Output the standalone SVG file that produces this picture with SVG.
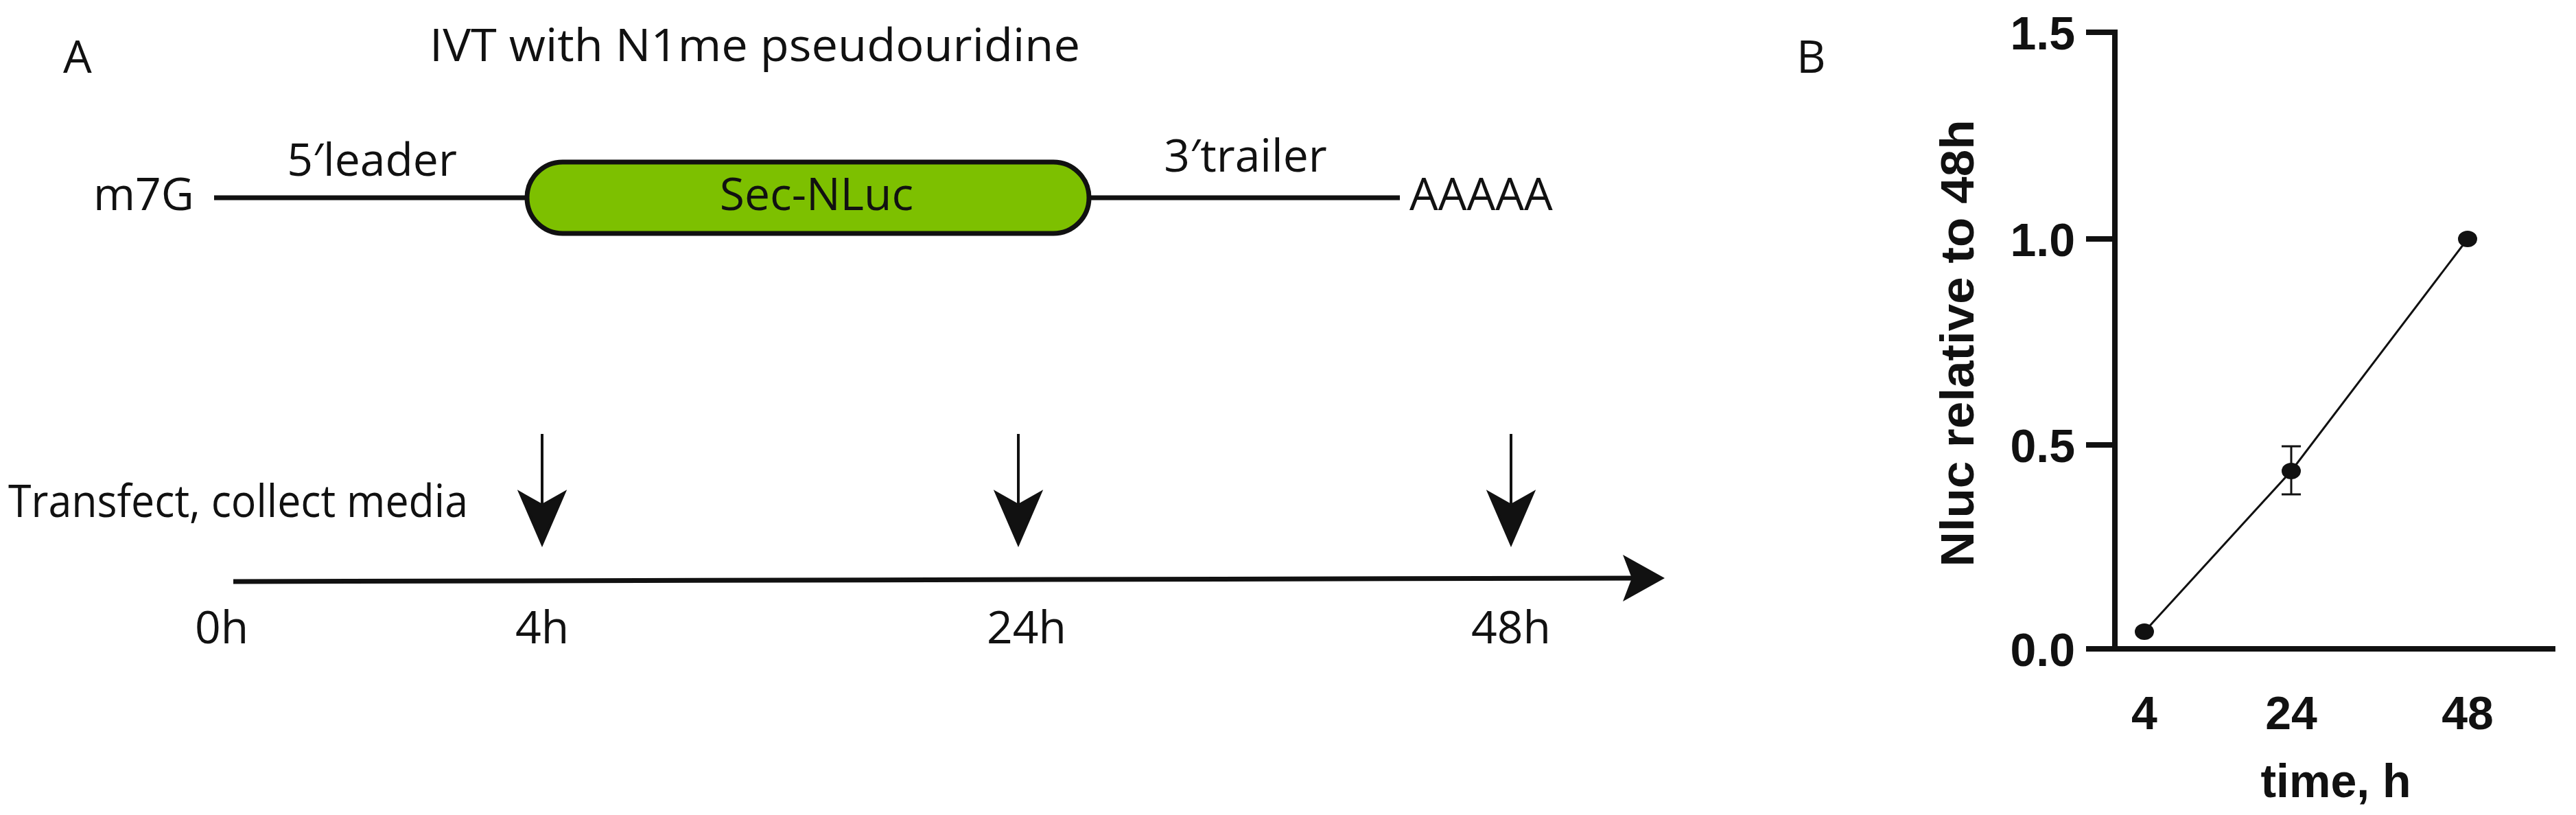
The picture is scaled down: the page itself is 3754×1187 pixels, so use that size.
<svg xmlns="http://www.w3.org/2000/svg" width="3754" height="1187" viewBox="0 0 3754 1187">
<style>
.t{font-family:"Open Sans","Liberation Sans",sans-serif;fill:#111;font-size:66px}
.b{font-family:"Liberation Sans",Arial,sans-serif;font-weight:bold;fill:#111;font-size:68px}
.ln{stroke:#111;fill:none}
</style>
<rect width="3754" height="1187" fill="#fff"/>
<text class="t" x="92" y="106" font-size="104">A</text>
<text class="t" x="1100" y="89" text-anchor="middle" font-size="70" textLength="948" lengthAdjust="spacingAndGlyphs">IVT with N1me pseudouridine</text>
<g id="connectors">
<line class="ln" x1="312" y1="288" x2="768" y2="288" stroke-width="7"/>
<line class="ln" x1="1587" y1="288" x2="2040" y2="288" stroke-width="7"/>
<g id="time-arrows" stroke="#111" stroke-width="4">
<line x1="790" y1="632" x2="790" y2="760"/>
<path d="M758,718 L790,792 L822,718 L790,736 Z" fill="#111"/>
<line x1="1484" y1="632" x2="1484" y2="760"/>
<path d="M1452,718 L1484,792 L1516,718 L1484,736 Z" fill="#111"/>
<line x1="2202" y1="632" x2="2202" y2="760"/>
<path d="M2170,718 L2202,792 L2234,718 L2202,736 Z" fill="#111"/>
</g>
<line x1="340" y1="847" x2="2390" y2="842" stroke="#111" stroke-width="7"/>
<path d="M2365,808 L2426,842 L2365,876 L2378,842 Z" fill="#111"/>
</g>
<g id="cap"><text class="t" x="136" y="306" font-size="68">m7G</text></g>
<g id="leader"><text class="t" x="542" y="256" text-anchor="middle" font-size="68">5′leader</text></g>
<g id="secnluc">
<rect x="768" y="236" width="819" height="104" rx="52" fill="#7dc000" stroke="#111" stroke-width="7"/>
<text class="t" x="1190" y="306" text-anchor="middle" font-size="68">Sec-NLuc</text>
</g>
<g id="trailer"><text class="t" x="1815" y="250" text-anchor="middle" font-size="68">3′trailer</text></g>
<g id="polyA"><text class="t" x="2054" y="306" font-size="70">AAAAA</text></g>
<g id="transfect"><text class="t" x="12" y="753" font-size="68" textLength="670" lengthAdjust="spacingAndGlyphs">Transfect, collect media</text></g>
<g id="timelabels" font-size="68">
<text class="t" x="323" y="937" text-anchor="middle" font-size="68">0h</text>
<text class="t" x="790" y="937" text-anchor="middle" font-size="68">4h</text>
<text class="t" x="1496" y="937" text-anchor="middle" font-size="68">24h</text>
<text class="t" x="2202" y="937" text-anchor="middle" font-size="68">48h</text>
</g>
<g id="panelB">
<text class="t" x="2618" y="106" font-size="104">B</text>
<text class="b" transform="translate(2876,500) rotate(-90)" text-anchor="middle" font-size="74" textLength="651" lengthAdjust="spacingAndGlyphs">Nluc relative to 48h</text>
<g stroke="#111" stroke-width="8">
<line x1="3082" y1="43" x2="3082" y2="949"/>
<line x1="3040" y1="47" x2="3082" y2="47"/>
<line x1="3040" y1="348" x2="3082" y2="348"/>
<line x1="3040" y1="648" x2="3082" y2="648"/>
<line x1="3040" y1="945" x2="3724" y2="945"/>
</g>
<g class="b" text-anchor="end">
<text x="3024" y="72">1.5</text>
<text x="3024" y="373">1.0</text>
<text x="3024" y="673">0.5</text>
<text x="3024" y="970">0.0</text>
</g>
<g class="b" text-anchor="middle">
<text x="3125" y="1062">4</text>
<text x="3339" y="1062">24</text>
<text x="3596" y="1062">48</text>
<text x="3404" y="1161">time, h</text>
</g>
<polyline points="3125,920 3339,686 3596,348" fill="none" stroke="#111" stroke-width="3"/>
<g stroke="#111" stroke-width="3">
<line x1="3339" y1="650" x2="3339" y2="720"/>
<line x1="3325" y1="650" x2="3353" y2="650"/>
<line x1="3325" y1="720" x2="3353" y2="720"/>
</g>
<g fill="#111">
<ellipse cx="3125" cy="920" rx="14" ry="12"/>
<ellipse cx="3339" cy="686" rx="14" ry="12"/>
<ellipse cx="3596" cy="348" rx="14" ry="12"/>
</g>
</g>
</svg>
